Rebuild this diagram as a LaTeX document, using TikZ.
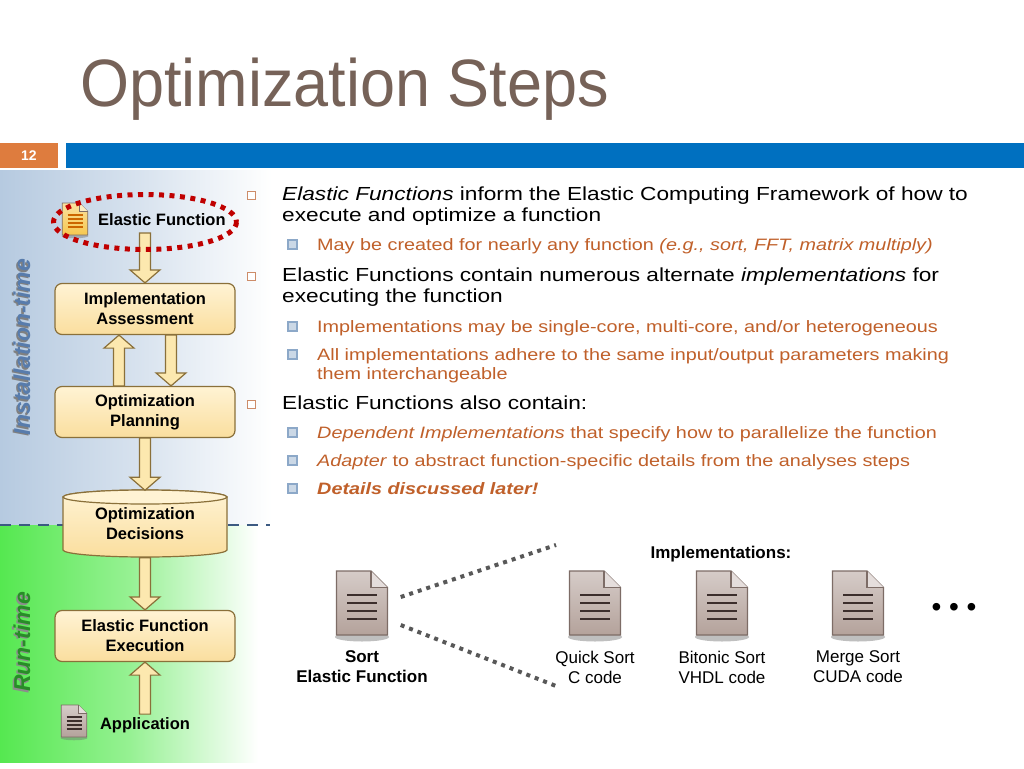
\documentclass[tikz,border=0pt]{standalone}
\usepackage{fontspec}
\setmainfont{Liberation Sans}
\newfontfamily\bodyfont[FakeStretch=1.2]{Liberation Sans}
\newfontfamily\titlefont[FakeStretch=0.94]{Liberation Sans}
\usepackage{tikz}
\usetikzlibrary{calc,shapes.geometric}

\definecolor{titlecol}{RGB}{118,98,88}
\definecolor{numorange}{RGB}{222,124,62}
\definecolor{barblue}{RGB}{0,112,192}
\definecolor{instblue}{RGB}{182,202,224}
\definecolor{instlabel}{RGB}{88,124,172}
\definecolor{rungreen}{RGB}{85,232,80}
\definecolor{runlabel}{RGB}{40,140,40}
\definecolor{sepblue}{RGB}{60,90,130}
\definecolor{boxtop}{RGB}{255,243,212}
\definecolor{boxbot}{RGB}{250,222,158}
\definecolor{boxline}{RGB}{138,112,58}
\definecolor{arrowfill}{RGB}{252,232,175}
\definecolor{subtext}{RGB}{192,96,42}
\definecolor{bulletone}{RGB}{205,140,105}
\definecolor{bullettwo}{RGB}{140,168,200}
\definecolor{ringred}{RGB}{192,0,0}
\definecolor{docgray}{RGB}{180,162,155}
\definecolor{docedge}{RGB}{125,108,102}
\definecolor{docink}{RGB}{60,46,44}
\definecolor{docyellow}{RGB}{246,200,80}
\definecolor{linkgray}{RGB}{88,88,88}

\tikzset{
	stepbox/.style={draw=boxline, line width=1.2, rounded corners=7, top color=boxtop, bottom color=boxbot, minimum width=180, minimum height=51, align=center, inner sep=0, font=\bfseries\fontsize{16.5}{20}\selectfont},
	fatarr/.style={draw=boxline, line width=1.2, fill=arrowfill, line join=miter},
	levelone/.style={anchor=base west, inner sep=0, font=\bodyfont\fontsize{18.9}{22}\selectfont},
	leveltwo/.style={anchor=base west, inner sep=0, text=subtext, font=\bodyfont\fontsize{16.5}{20}\selectfont},
	bulone/.style={draw=bulletone, line width=0.9, fill=white, minimum size=8, inner sep=0},
	bultwo/.style={draw=bullettwo, line width=2, fill=bullettwo!45, minimum size=9, inner sep=0},
	caption/.style={align=center, inner sep=0, font=\fontsize{17}{20}\selectfont},
	linkline/.style={draw=linkgray, line width=4, dash pattern=on 4 off 5},
	docspot/.style={inner sep=0, minimum width=51, minimum height=64},
}

\def\fatarrow[#1](#2)(#3){%
	\coordinate (fa-s) at ([#1]#2);
	\coordinate (fa-t) at ([#1]#3);
	\coordinate (fa-h) at ($(fa-t)!13pt!(fa-s)$);
	\draw[fatarr] ($(fa-s)!5.5pt!90:(fa-t)$) -- ($(fa-h)!5.5pt!90:(fa-t)$) -- ($(fa-h)!15pt!90:(fa-t)$) -- (fa-t) -- ($(fa-h)!15pt!-90:(fa-t)$) -- ($(fa-h)!5.5pt!-90:(fa-t)$) -- ($(fa-s)!5.5pt!-90:(fa-t)$) -- cycle;}

\def\docicon(#1)#2#3#4{%
	\begin{scope}[shift={(#1)}, scale=#2]
		\fill[black!55, opacity=0.45] (0,34) ellipse (27 and 4.5);
		\draw[docedge, line width={1.2*#2}, top color=#3!55, bottom color=#3] (-25.5,-32) -- (9,-32) -- (25.5,-15.5) -- (25.5,32) -- (-25.5,32) -- cycle;
		\draw[docedge, line width={1.2*#2}, fill=#3!35] (9,-32) -- (9,-15.5) -- (25.5,-15.5);
		\foreach \yy in {-8,0,8,16} \draw[#4, line width={2.8*#2}] (-15,\yy) -- (15,\yy);
	\end{scope}}

\begin{document}
\begin{tikzpicture}[x=1pt, y=-1pt]
			%%%%% START %%%%%
			\useasboundingbox (0,0) rectangle (1024,768);
			\fill[white] (0,0) rectangle (1024,768);
			
			\node[anchor=base west, inner sep=0, text=titlecol, font=\titlefont\fontsize{67}{67}\selectfont] (title) at (80,106) {Optimization Steps};
			\fill[numorange] (0,143) rectangle (58,168);
			\fill[barblue] (66,143) rectangle (1024,168);
			\node[text=white, font=\bfseries\fontsize{14}{14}\selectfont] (pagenum) at (29,155.5) {12};
			
			\shade[left color=instblue, right color=white, middle color=instblue!55] (0,170) rectangle (272,525);
			\shade[left color=rungreen, right color=white, middle color=rungreen!62] (0,525) rectangle (258,762);
			\draw[sepblue, line width=2.5, dash pattern=on 11 off 8] (0,525) -- (270,525);
			
			\node[rotate=90, font=\bfseries\itshape\fontsize{23}{23}\selectfont, text=black!50] (instshade) at (20.5,348.5) {Installation-time};
			\node[rotate=90, font=\bfseries\itshape\fontsize{23}{23}\selectfont, text=instlabel] (instlab) at (22,347) {Installation-time};
			\node[rotate=90, font=\bfseries\itshape\fontsize{23}{23}\selectfont, text=black!45] (runshade) at (20.5,643.5) {Run-time};
			\node[rotate=90, font=\bfseries\itshape\fontsize{23}{23}\selectfont, text=runlabel] (runlab) at (22,642) {Run-time};
			
			\node[stepbox] (impl) at (145,309) {Implementation\\Assessment};
			\node[stepbox] (plan) at (145,412) {Optimization\\Planning};
			\node[stepbox] (exec) at (145,636) {Elastic Function\\Execution};
			
			\draw[boxline, line width=1.2, top color=boxtop, bottom color=boxbot] (63,497) -- (63,550) arc (180:0:82 and 7) -- (227,497) arc (0:-180:82 and 7) -- cycle;
			\draw[boxline, line width=1.2, fill=boxtop] (145,497) ellipse (82 and 7);
			\node[align=center, inner sep=0, minimum width=164, minimum height=67, font=\bfseries\fontsize{16.5}{20}\selectfont] (dec) at (145,524) {Optimization\\Decisions};
			
			\node[ellipse, inner sep=0, minimum width=183, minimum height=55] (efring) at (145,222) {};
			\coordinate (efstem) at ([yshift=-11pt]efring.center);
			\node[anchor=center, inner xsep=0, inner ysep=3, font=\bfseries\fontsize{16.5}{20}\selectfont] (applab) at (145,725) {Application};
			
			\fatarrow[xshift=0pt](efstem)(impl.north)
			\fatarrow[xshift=-26pt](plan.north)(impl.south)
			\fatarrow[xshift=26pt](impl.south)(plan.north)
			\fatarrow[xshift=0pt](plan.south)(dec.north)
			\fatarrow[xshift=0pt](dec.south)(exec.north)
			\fatarrow[xshift=0pt](applab.north)(exec.south)
			
			\node[docspot, minimum width=26, minimum height=32] (efdoc) at (75,219) {};
			\docicon(efdoc){0.5}{docyellow}{orange!80!black}
			\node[anchor=west, inner sep=0, font=\bfseries\fontsize{16.5}{20}\selectfont] (eflab) at (98,220) {Elastic Function};
			\draw[ringred, line width=5, dash pattern=on 5 off 5.5] (efring.center) ellipse (91.5 and 27.5);
			
			\node[docspot, minimum width=26, minimum height=32] (appdoc) at (74,721) {};
			\docicon(appdoc){0.5}{docgray}{docink}
			
			\node[bulone] (q1) at (251,195.5) {};
			\node[levelone] (t1a) at (282,200.5) {\textit{Elastic Functions} inform the Elastic Computing Framework of how to};
			\node[levelone] (t1b) at (282,221.5) {execute and optimize a function};
			\node[bultwo] (q2) at (292,244.5) {};
			\node[leveltwo] (t2) at (317,250) {May be created for nearly any function \textit{(e.g., sort, FFT, matrix multiply)}};
			\node[bulone] (q3) at (251,276.5) {};
			\node[levelone] (t3a) at (282,281.5) {Elastic Functions contain numerous alternate \textit{implementations} for};
			\node[levelone] (t3b) at (282,302.5) {executing the function};
			\node[bultwo] (q4) at (292,326.5) {};
			\node[leveltwo] (t4) at (317,332) {Implementations may be single-core, multi-core, and/or heterogeneous};
			\node[bultwo] (q5) at (292,354.5) {};
			\node[leveltwo] (t5a) at (317,360) {All implementations adhere to the same input/output parameters making};
			\node[leveltwo] (t5b) at (317,379) {them interchangeable};
			\node[bulone] (q6) at (251,404.5) {};
			\node[levelone] (t6) at (282,409.5) {Elastic Functions also contain:};
			\node[bultwo] (q7) at (292,432.5) {};
			\node[leveltwo] (t7) at (317,438) {\textit{Dependent Implementations} that specify how to parallelize the function};
			\node[bultwo] (q8) at (292,460.5) {};
			\node[leveltwo] (t8) at (317,466) {\textit{Adapter} to abstract function-specific details from the analyses steps};
			\node[bultwo] (q9) at (292,488.5) {};
			\node[leveltwo] (t9) at (317,494) {\textbf{\textit{Details discussed later!}}};
			
			\node[caption, font=\bfseries\fontsize{17}{20}\selectfont] (impltitle) at (721,554) {Implementations:};
			
			\node[docspot] (sortdoc) at (362,603) {};
			\docicon(sortdoc){1}{docgray}{docink}
			\node[docspot] (quickdoc) at (595,603) {};
			\docicon(quickdoc){1}{docgray}{docink}
			\node[docspot] (bitonicdoc) at (722,603) {};
			\docicon(bitonicdoc){1}{docgray}{docink}
			\node[docspot] (mergedoc) at (858,603) {};
			\docicon(mergedoc){1}{docgray}{docink}
			
			\node[caption] (sortlab) at (362,667) {\textbf{Sort}\\\textbf{Elastic Function}};
			\node[caption] (quicklab) at (595,667) {Quick Sort\\C code};
			\node[caption] (bitoniclab) at (722,667) {Bitonic Sort\\VHDL code};
			\node[caption] (mergelab) at (858,667) {Merge Sort\\CUDA code};
			\node[anchor=base, inner sep=0, font=\fontsize{28}{28}\selectfont] (more) at (954,616) {• • •};
			
			\coordinate (linkup) at (556,545);
			\coordinate (linkdown) at (556,686);
			\draw[linkline] ([xshift=13pt,yshift=6pt]sortdoc.east) -- (linkup);
			\draw[linkline] ([xshift=13pt,yshift=-22pt]sortdoc.east) -- (linkdown);
			
			%%%%% END %%%%%
		\end{tikzpicture}
\end{document}
